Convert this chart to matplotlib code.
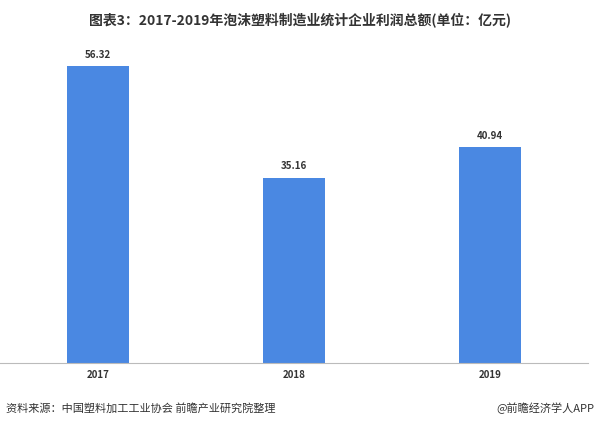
import matplotlib
matplotlib.use("Agg")
import matplotlib.pyplot as plt

plt.rcParams["font.family"] = "Noto Sans CJK SC"

years = ["2017", "2018", "2019"]
profits = [56.32, 35.16, 40.94]
title = "图表3：2017-2019年泡沫塑料制造业统计企业利润总额(单位：亿元)"
source = "资料来源：中国塑料加工工业协会 前瞻产业研究院整理"
credit = "@前瞻经济学人APP"

fig = plt.figure(figsize=(6, 4.29), dpi=100)
ax = fig.add_axes([0.0, 0.154, 0.98, 0.762])
x = range(len(years))
bars = ax.bar(x, profits, width=0.32, color="#4a88e2")
for xi, v in zip(x, profits):
    ax.text(xi, v + 1.2, f"{v:.2f}", ha="center", va="bottom", fontsize=7, fontweight="bold", color="#333333")
ax.set_xlim(-0.5, 2.5)
ax.set_ylim(0, 62)
ax.set_xticks(list(x))
ax.set_xticklabels(years, fontsize=7, fontweight="bold", color="#333333")
ax.set_yticks([])
for s in ["top", "right", "left"]:
    ax.spines[s].set_visible(False)
ax.spines["bottom"].set_color("#bbbbbb")
ax.tick_params(axis="x", length=0, pad=5)

fig.text(0.5, 0.955, title, ha="center", va="center", fontsize=10, fontweight="bold", color="#333333")
fig.text(0.01, 0.048, source, ha="left", va="center", fontsize=8, color="#333333")
fig.text(0.99, 0.048, credit, ha="right", va="center", fontsize=8, color="#333333")
fig.savefig("out.png", dpi=100)
